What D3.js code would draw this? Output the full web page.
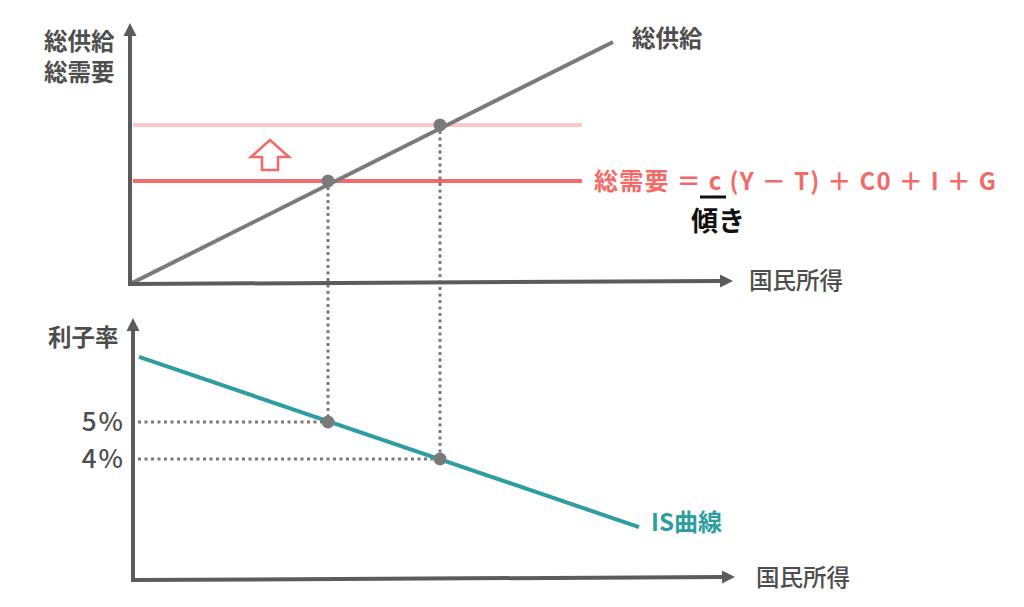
<!DOCTYPE html>
<html>
<head>
<meta charset="utf-8">
<script src="https://cdn.jsdelivr.net/npm/d3@7"></script>
<style>
  body { margin: 0; background: #fff; }
  svg { display: block; font-family: "Noto Sans CJK JP", "Noto Sans", sans-serif; }
</style>
</head>
<body>
<div id="chart"></div>
<script>
// values (income Y in arbitrary units)
const supplyY = [0, 483]
const supplyAS = [0, 242]
const demandLevels = [103, 159]      // old AD, shifted AD
const equilibriumY = [198, 310]
const rates = [5, 4]
const rateLabels = ['5%', '4%']
const isY = [9, 509]
const isR = [6.76, 2.16]

const W = 1024, H = 607
const axisColor = '#5b5b5b'
const lineGray = '#7a7a7a'
const red = '#f26b68'
const pale = '#fcc8c7'
const teal = '#2c9ea1'
const textGray = '#4e4e4e'

const svg = d3.select('#chart').append('svg')
  .attr('width', W).attr('height', H)

const x = d3.scaleLinear().domain([0, 600]).range([130, 730])
const yTop = d3.scaleLinear().domain([0, 260]).range([284, 24])
const r = d3.scaleLinear().domain([4, 5]).range([459, 422])

// arrow helper for the axes
function axisArrow(x1, y1, x2, y2) {
  const ang = Math.atan2(y2 - y1, x2 - x1)
  const len = 13, half = 6.5
  const bx = x2 - len * Math.cos(ang), by = y2 - len * Math.sin(ang)
  svg.append('line')
    .attr('x1', x1).attr('y1', y1).attr('x2', bx).attr('y2', by)
    .attr('stroke', axisColor).attr('stroke-width', 4)
  svg.append('path')
    .attr('d', `M${x2},${y2}L${bx - half * Math.sin(ang)},${by + half * Math.cos(ang)}L${bx + half * Math.sin(ang)},${by - half * Math.cos(ang)}Z`)
    .attr('fill', axisColor)
}

// ---- top panel: aggregate demand / supply ----
svg.append('line')
  .attr('x1', x(0) + 3).attr('x2', x(452))
  .attr('y1', yTop(demandLevels[1])).attr('y2', yTop(demandLevels[1]))
  .attr('stroke', pale).attr('stroke-width', 4)

svg.append('line')
  .attr('x1', x(0) + 3).attr('x2', x(452))
  .attr('y1', yTop(demandLevels[0])).attr('y2', yTop(demandLevels[0]))
  .attr('stroke', red).attr('stroke-width', 4)

svg.append('line')
  .attr('x1', x(supplyY[0])).attr('y1', yTop(supplyAS[0]))
  .attr('x2', x(supplyY[1])).attr('y2', yTop(supplyAS[1]))
  .attr('stroke', lineGray).attr('stroke-width', 4)

// hollow up arrow (shift of AD)
const ax = x(140), ay = 140
svg.append('path')
  .attr('d', `M${ax},${ay}L${ax + 19},${ay + 17}L${ax + 8},${ay + 17}L${ax + 8},${ay + 30}L${ax - 8},${ay + 30}L${ax - 8},${ay + 17}L${ax - 19},${ay + 17}Z`)
  .attr('fill', 'none').attr('stroke', red).attr('stroke-width', 2.6)

// ---- dotted guides ----
equilibriumY.forEach((v, i) => {
  svg.append('line')
    .attr('x1', x(v)).attr('x2', x(v))
    .attr('y1', yTop(demandLevels[i]) + 6).attr('y2', r(rates[i]))
    .attr('stroke', lineGray).attr('stroke-width', 3)
    .attr('stroke-dasharray', '3,3.5')
  svg.append('line')
    .attr('x1', x(0) + 8).attr('x2', x(v) - 4)
    .attr('y1', r(rates[i])).attr('y2', r(rates[i]))
    .attr('stroke', lineGray).attr('stroke-width', 3)
    .attr('stroke-dasharray', '3,3.5')
})

// ---- bottom panel: IS curve ----
svg.append('line')
  .attr('x1', x(isY[0])).attr('y1', r(isR[0]))
  .attr('x2', x(isY[1])).attr('y2', r(isR[1]))
  .attr('stroke', teal).attr('stroke-width', 4)

// equilibrium dots
equilibriumY.forEach((v, i) => {
  svg.append('circle').attr('cx', x(v)).attr('cy', yTop(demandLevels[i])).attr('r', 6.5).attr('fill', lineGray)
  svg.append('circle').attr('cx', x(v)).attr('cy', r(rates[i])).attr('r', 6.5).attr('fill', lineGray)
})

// axes
axisArrow(x(0), yTop(0) + 2, x(0), 23)
axisArrow(x(0) - 2, yTop(0), 733, yTop(0) - 3)
axisArrow(x(0) + 3, 582, x(0) + 3, 318)
axisArrow(x(0) + 1, 580, 735, 577)

// ---- text ----
function label(t, px, py, opts) {
  const o = Object.assign({ size: 23.5, weight: 700, fill: textGray, anchor: 'start' }, opts)
  const el = svg.append('text')
    .attr('x', px).attr('y', py)
    .attr('font-size', o.size).attr('font-weight', o.weight)
    .attr('fill', o.fill).attr('text-anchor', o.anchor)
    .text(t)
  if (o.len) el.attr('textLength', o.len).attr('lengthAdjust', 'spacing')
  if (o.ls) el.attr('letter-spacing', o.ls)
  return el
}

label('総供給', 44, 50)
label('総需要', 44, 81)
label('総供給', 632, 47)
label('国民所得', 749, 289, { weight: 500, size: 23.5 })
label('総需要 ＝ c (Y － T) ＋ C0 ＋ I ＋ G', 594, 190, { fill: red, len: 402, size: 24 })
svg.append('rect').attr('x', 700).attr('y', 195.5).attr('width', 26).attr('height', 3).attr('fill', '#111')
label('傾き', 691, 231, { size: 27, fill: '#111' })

label('利子率', 48, 346)
rates.forEach((v, i) => {
  label(rateLabels[i], 125, r(v) + 9, { size: 26, weight: 500, anchor: 'end', ls: 2 })
})
label('IS曲線', 651, 531, { fill: teal, size: 24 })
label('国民所得', 756, 586, { weight: 500, size: 23.5 })
</script>
</body>
</html>
